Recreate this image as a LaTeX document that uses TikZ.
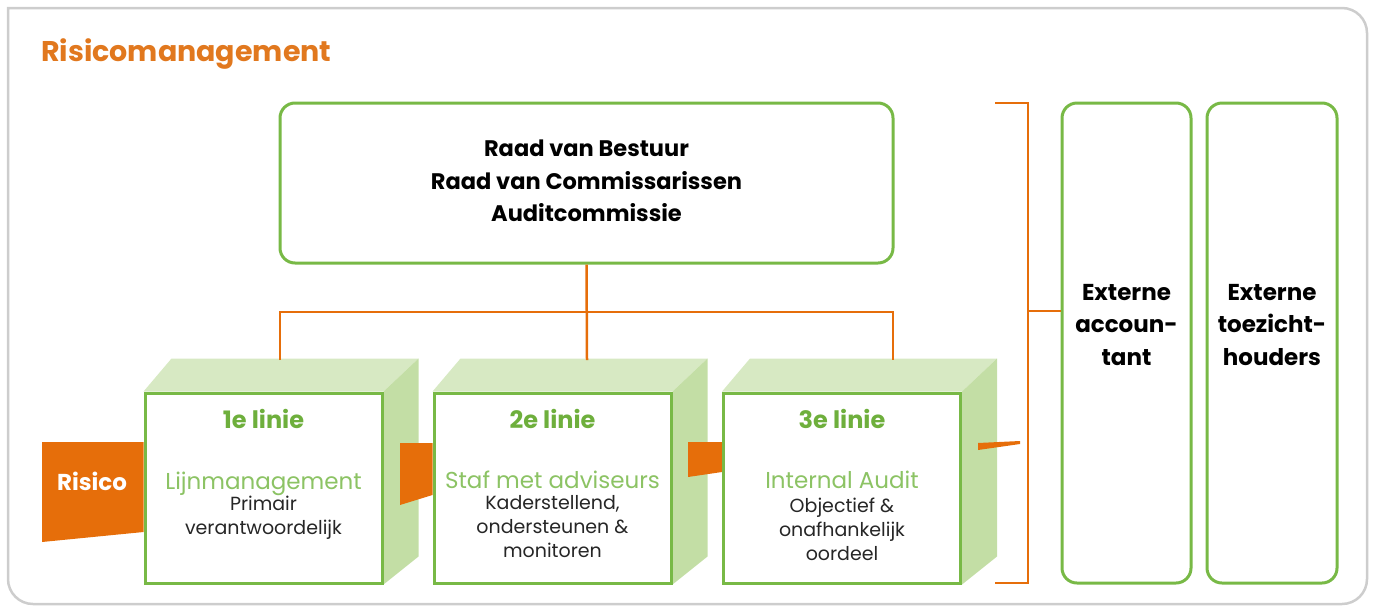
\documentclass[tikz,border=0pt]{standalone}
\usepackage{fontspec}
\setmainfont{Poppins}
\usetikzlibrary{backgrounds,calc}
\definecolor{orangeC}{RGB}{230,110,10}
\definecolor{titleC}{RGB}{225,120,30}
\definecolor{greenB}{RGB}{120,185,70}
\definecolor{greenT}{RGB}{110,175,60}
\definecolor{greenL}{RGB}{140,195,100}
\definecolor{topC}{RGB}{215,233,195}
\definecolor{sideC}{RGB}{195,222,165}
\definecolor{frameC}{RGB}{205,205,205}
\pgfdeclarelayer{back}
\pgfdeclarelayer{mid}
\pgfsetlayers{back,mid,main}
\begin{document}
\begin{tikzpicture}[x=1pt,y=-1pt,
  frontbox/.style={draw=greenB, fill=white, line width=3pt, minimum width=237pt, minimum height=190pt, inner sep=0pt},
  roundbox/.style={draw=greenB, fill=white, line width=3pt, rounded corners=15pt, inner sep=0pt},
  topface/.style={fill=topC},
  sideface/.style={fill=sideC},
  ribbon/.style={fill=orangeC},
  link/.style={draw=orangeC, line width=2.5pt},
  hdr/.style={text=greenT, font=\fontsize{24}{28}\selectfont\bfseries, inner sep=0pt},
  ttl/.style={text=greenL, font=\fontsize{23}{26}\selectfont, inner sep=0pt},
  body/.style={text=black!85, align=center, font=\fontsize{19}{24}\selectfont, inner sep=0pt},
  bold/.style={text=black, align=center, font=\fontsize{23}{32.5}\selectfont\bfseries, inner sep=0pt}
]
\useasboundingbox (0,0) rectangle (1375,611);
% outer frame
\draw[frameC, line width=2.5pt] (8,300) [rounded corners=25pt] -- (8,604) -- (1367,604) -- (1367,8) -- (40,8) [sharp corners] -- (8,8) -- cycle;
\node[text=titleC, font=\fontsize{28.5}{30}\selectfont\bfseries, anchor=base west, inner sep=0pt] (title) at (41,61) {Risicomanagement};

% top box
\node[roundbox, minimum width=613pt, minimum height=160pt, bold, font=\fontsize{22.5}{32.5}\selectfont\bfseries] (rvb) at (586.5,183) {};
\node[bold, font=\fontsize{22.5}{32.5}\selectfont\bfseries] (rvbt) at (586.5,181) {Raad van Bestuur\\Raad van Commissarissen\\Auditcommissie};

% front faces
\node[frontbox] (b1) at (263.5,488) {};
\node[frontbox] (b2) at (552.5,488) {};
\node[frontbox] (b3) at (842,488) {};

\begin{pgfonlayer}{back}
\foreach \b in {b1,b2,b3}{
  \fill[topface] (\b.north west) -- (\b.north east) -- ++(35,-33) coordinate (\b-tr) -- ($(\b.north west)+(28,-33)$) -- cycle;
  \fill[sideface] (\b.north east) -- (\b-tr) -- ++(0,198) -- (\b.south east) -- cycle;
}
\end{pgfonlayer}
\begin{pgfonlayer}{mid}
\fill[ribbon] (42,442) -- (b1.west |- 0,442) -- (b1.west |- 0,532) -- (42,542) -- cycle;
\fill[ribbon] (400,443) -- (b2.west |- 0,443) -- (b2.west |- 0,495) -- (400,505) -- cycle;
\fill[ribbon] (688,442) -- (b3.west |- 0,442) -- (b3.west |- 0,472) -- (688,477) -- cycle;
\fill[ribbon] (978,443) -- (1020,441) -- (1020,444) -- (978,450) -- cycle;
\end{pgfonlayer}
\node[text=white, font=\fontsize{23}{24}\selectfont\bfseries, inner sep=0pt] (risico) at (92,481) {Risico};

% texts in boxes (multi-line nodes: base = last line)
\node[hdr, anchor=base] (h1) at (263.5,428) {1e linie};
\node[ttl, anchor=base] (t1) at (263.5,489) {Lijnmanagement};
\node[body, anchor=base] (d1) at (263.5,534) {Primair\\verantwoordelijk};

\node[hdr, anchor=base] (h2) at (552.5,428) {2e linie};
\node[ttl, anchor=base] (t2) at (552.5,488) {Staf met adviseurs};
\node[body, anchor=base] (d2) at (552.5,557) {Kaderstellend,\\ondersteunen \&\\monitoren};

\node[hdr, anchor=base] (h3) at (842,428) {3e linie};
\node[ttl, anchor=base] (t3) at (842,488) {Internal Audit};
\node[body, anchor=base] (d3) at (842,560) {Objectief \&\\onafhankelijk\\oordeel};

% connectors from top box
\coordinate (jn) at (587,312);
\coordinate (c1) at (280,360);
\coordinate (c2) at (587,360);
\coordinate (c3) at (893,360);
\draw[link] (rvb.south) -- (c2);
\draw[link] (c1) |- (jn) -| (c3);

% external boxes
\node[roundbox, minimum width=129pt, minimum height=480pt] (ea) at (1126.5,343) {};
\node[roundbox, minimum width=130pt, minimum height=480pt] (et) at (1272,343) {};
\node[bold] (eat) at (1126.5,325) {Externe\\accoun-\\tant};
\node[bold] (ett) at (1272,325) {Externe\\toezicht-\\houders};

% bracket
\coordinate (bt) at (995,103);
\coordinate (bb) at (995,583);
\coordinate (bm) at (1028,311);
\draw[link] (bt) -| (bm) |- (bb);
\draw[link] (bm) -- (bm -| ea.west);
\end{tikzpicture}
\end{document}
